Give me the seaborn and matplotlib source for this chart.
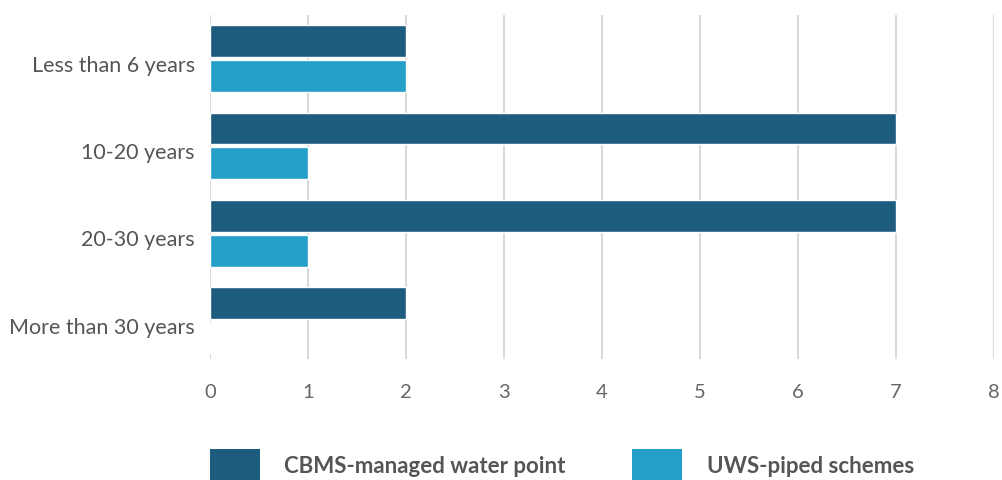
import matplotlib
matplotlib.use("Agg")
import matplotlib.pyplot as plt
import matplotlib.transforms as mtransforms
import seaborn as sns
import pandas as pd
from matplotlib.patches import Patch

categories = ["Less than 6 years", "10-20 years", "20-30 years", "More than 30 years"]
series_names = ["CBMS-managed water point", "UWS-piped schemes"]
cbms_values = [2, 7, 7, 2]
uws_values = [2, 1, 1, 0]
x_ticks = [0, 1, 2, 3, 4, 5, 6, 7, 8]
colors = ["#1E5C7F", "#249FC7"]

df = pd.DataFrame({
    "category": categories * 2,
    "series": [series_names[0]] * 4 + [series_names[1]] * 4,
    "value": cbms_values + uws_values,
})

sns.set_theme(style="white")
plt.rcParams["font.family"] = ["Lato", "DejaVu Sans"]

fig = plt.figure(figsize=(10.02, 4.81), dpi=100)
ax = fig.add_axes([210 / 1002, 1 - 360 / 481, (994 - 210) / 1002, (360 - 16) / 481])

sns.barplot(data=df, y="category", x="value", hue="series", order=categories,
            hue_order=series_names, palette=colors, orient="h", width=0.8,
            gap=0.085, saturation=1, ax=ax, legend=False)

ax.set_xlim(0, 8)
ax.set_ylim(3.44, -0.5)
ax.set_xticks(x_ticks)
ax.set_xticklabels([str(t) for t in x_ticks])
ax.set_xlabel("")
ax.set_ylabel("")
for s in ax.spines.values():
    s.set_visible(False)
ax.grid(axis="x", color="#d9d9d9", linewidth=1.5)
ax.grid(axis="y", visible=False)
ax.set_axisbelow(True)
ax.tick_params(axis="x", length=0, pad=17, labelsize=14.5, labelcolor="#666666")
ax.tick_params(axis="y", length=0, pad=11, labelsize=15.5, labelcolor="#555555")
offset = mtransforms.ScaledTranslation(0, -3 / 72, fig.dpi_scale_trans)
for lbl in ax.get_yticklabels():
    lbl.set_transform(lbl.get_transform() + offset)

handles = [Patch(facecolor=c, edgecolor="none") for c in colors]
leg = fig.legend(handles, series_names, loc="center left",
                 bbox_to_anchor=(210 / 1002, 1 - 466 / 481), ncol=2, frameon=False,
                 prop={"size": 16, "weight": "bold"},
                 handlelength=2.25, handleheight=1.77, handletextpad=1.1,
                 columnspacing=3.0, borderaxespad=0, borderpad=0)
for t in leg.get_texts():
    t.set_color("#555555")

fig.savefig("out.png", dpi=100)
